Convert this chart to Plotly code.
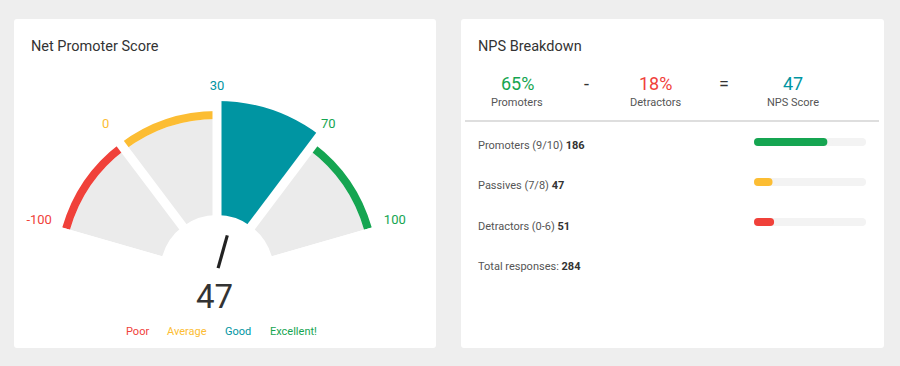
import plotly.graph_objects as go

# ---------------- data ----------------
thresholds = [-100, 0, 30, 70, 100]
categories = ["Poor", "Average", "Good", "Excellent!"]
seg_colors = ["#f0413a", "#fcbd33", "#0095a2", "#15a551"]
score = 47

breakdown_labels = ["Promoters (9/10)", "Passives (7/8)", "Detractors (0-6)"]
breakdown_counts = [186, 47, 51]
breakdown_colors = ["#15a551", "#fcbd33", "#f0413a"]
total_responses = 284
pct_promoters = 65
pct_detractors = 18

# ---------------- geometry helpers ----------------
W, H = 900, 366
FONT = "Roboto"


def px(x):
    return x / W


def py(y):
    return 1 - y / H


def rounded_rect(x0, y0, x1, y1, r=3):
    X0, X1 = px(x0), px(x1)
    Y0, Y1 = py(y1), py(y0)
    rx, ry = r / W, r / H
    return (f"M{X0+rx},{Y0} L{X1-rx},{Y0} Q{X1},{Y0} {X1},{Y0+ry} "
            f"L{X1},{Y1-ry} Q{X1},{Y1} {X1-rx},{Y1} L{X0+rx},{Y1} "
            f"Q{X0},{Y1} {X0},{Y1-ry} L{X0},{Y0+ry} Q{X0},{Y0} {X0+rx},{Y0} Z")


# gauge styling
A_START, SEG_W = 164.0, 37.0
CX, CY, RPX = 217.0, 272.0, 200.0
R_HOLE, R_GRAY, R_BAND, R_ACTIVE, R_LABEL = 57, 153, 161, 171, 185
GRAY = "#ebebeb"

n = len(categories)
seg_mid = [A_START - SEG_W * (i + 0.5) for i in range(n)]
bounds = [A_START - SEG_W * i for i in range(n + 1)]
active = next(i for i in range(n) if thresholds[i] <= score <= thresholds[i + 1])
frac = (score - thresholds[active]) / (thresholds[active + 1] - thresholds[active])
needle_theta = bounds[active] - SEG_W * frac

fig = go.Figure()

inactive = [i for i in range(n) if i != active]
fig.add_trace(go.Barpolar(
    r=[R_GRAY - R_HOLE] * len(inactive), base=[R_HOLE] * len(inactive),
    theta=[seg_mid[i] for i in inactive], width=[SEG_W] * len(inactive),
    marker=dict(color=GRAY, line=dict(width=0)), hoverinfo="skip", showlegend=False))
fig.add_trace(go.Barpolar(
    r=[R_BAND - R_GRAY] * len(inactive), base=[R_GRAY] * len(inactive),
    theta=[seg_mid[i] for i in inactive], width=[SEG_W] * len(inactive),
    marker=dict(color=[seg_colors[i] for i in inactive], line=dict(width=0)),
    hoverinfo="skip", showlegend=False))
fig.add_trace(go.Barpolar(
    r=[R_ACTIVE - R_HOLE], base=[R_HOLE], theta=[seg_mid[active]], width=[SEG_W],
    marker=dict(color=seg_colors[active], line=dict(width=0)),
    hoverinfo="skip", showlegend=False))
sr, st = [], []
for b in bounds[1:-1]:
    sr += [0, 175, None]
    st += [b, b, None]
fig.add_trace(go.Scatterpolar(r=sr, theta=st, mode="lines",
                              line=dict(color="white", width=9),
                              hoverinfo="skip", showlegend=False))
fig.add_trace(go.Scatterpolar(r=[4, 38], theta=[needle_theta, needle_theta], mode="lines",
                              line=dict(color="#222222", width=3.2),
                              hoverinfo="skip", showlegend=False))
lab_colors = seg_colors + [seg_colors[-1]]
fig.add_trace(go.Scatterpolar(
    r=[R_LABEL] * len(thresholds), theta=bounds, mode="text",
    text=[str(t) for t in thresholds],
    textfont=dict(family=FONT, size=13, color=lab_colors),
    cliponaxis=False, hoverinfo="skip", showlegend=False))

# progress bars: each pill = two overlapping halves, each rounded at its far end
rows = list(range(len(breakdown_labels)))
fracs = [c / total_responses for c in breakdown_counts]


def pill(values, color):
    lo = [v * 0.3 for v in values]
    hi = [v * 0.7 for v in values]
    fig.add_trace(go.Bar(x=[v - b for v, b in zip(values, lo)], base=lo, y=rows, orientation="h",
                         width=0.2, marker=dict(color=color, cornerradius=4, line=dict(width=0)),
                         xaxis="x", yaxis="y", hoverinfo="skip", showlegend=False))
    fig.add_trace(go.Bar(x=[-b for b in hi], base=hi, y=rows, orientation="h",
                         width=0.2, marker=dict(color=color, cornerradius=4, line=dict(width=0)),
                         xaxis="x", yaxis="y", hoverinfo="skip", showlegend=False))


pill([1] * len(rows), "#f3f3f3")
pill(fracs, breakdown_colors)

# ---------------- layout ----------------
bb = 0.9612617  # cos(16deg)
polar_dom_x = [px(CX - bb * RPX), px(CX + bb * RPX)]
polar_dom_y = [py(CY), py(CY - RPX)]

row_top, row_sp = 122, 40   # pixel-aligned rows (centres 142, 182, 222)

shapes = [
    dict(type="path", path=rounded_rect(14, 19, 436, 348), xref="paper", yref="paper",
         fillcolor="white", line=dict(width=0), layer="below"),
    dict(type="path", path=rounded_rect(461, 19, 884, 348), xref="paper", yref="paper",
         fillcolor="white", line=dict(width=0), layer="below"),
    dict(type="line", x0=px(465), x1=px(879), y0=py(121), y1=py(121), xref="paper", yref="paper",
         line=dict(color="#dedede", width=2)),
]

ann = []


def add_text(x, y, text, size, color, anchor="center"):
    ann.append(dict(x=px(x), y=py(y), xref="paper", yref="paper", text=text, showarrow=False,
                    xanchor=anchor, yanchor="middle",
                    font=dict(family=FONT, size=size, color=color)))


add_text(29, 46, "Net Promoter Score", 14.5, "#333333", "left")
add_text(476, 46, "NPS Breakdown", 14.5, "#333333", "left")
add_text(214, 296, str(score), 33, "#333333")

leg_x = [137, 187, 238, 293]
for i, c in enumerate(categories):
    add_text(leg_x[i], 331, c, 11, seg_colors[i])

add_text(517, 83, f"{pct_promoters}%", 18, breakdown_colors[0])
add_text(517, 103, "Promoters", 11, "#555555")
add_text(586, 83, "-", 18, "#333333")
add_text(655, 83, f"{pct_detractors}%", 18, breakdown_colors[2])
add_text(655, 103, "Detractors", 11, "#555555")
add_text(724, 83, "=", 18, "#333333")
add_text(793, 83, str(pct_promoters - pct_detractors), 18, seg_colors[2])
add_text(793, 103, "NPS Score", 11, "#555555")

text_y = [145, 185.5, 226]
for i, lab in enumerate(breakdown_labels):
    add_text(476, text_y[i], f"{lab} <b><span style='color:#333'>{breakdown_counts[i]}</span></b>",
             11, "#555555", "left")
add_text(476, 266.5, f"Total responses: <b><span style='color:#333'>{total_responses}</span></b>",
         11, "#555555", "left")

fig.update_layout(
    width=W, height=H, margin=dict(l=0, r=0, t=0, b=0),
    paper_bgcolor="#eeeeee", plot_bgcolor="rgba(0,0,0,0)",
    font=dict(family=FONT),
    polar=dict(
        domain=dict(x=polar_dom_x, y=polar_dom_y),
        sector=[bounds[-1], bounds[0]],
        bgcolor="rgba(0,0,0,0)", barmode="overlay",
        radialaxis=dict(range=[0, RPX], visible=False, showgrid=False),
        angularaxis=dict(visible=False, showgrid=False, direction="counterclockwise", rotation=0),
    ),
    xaxis=dict(domain=[px(754), px(866)], range=[0, 1], visible=False, fixedrange=True),
    yaxis=dict(domain=[py(row_top + row_sp * len(rows)), py(row_top)],
               range=[len(rows) - 0.5, -0.5], visible=False, fixedrange=True),
    barmode="overlay",
    shapes=shapes, annotations=ann,
)

fig.write_html("out.html", config={"displayModeBar": False},
               post_script="document.body.style.margin='0';")
